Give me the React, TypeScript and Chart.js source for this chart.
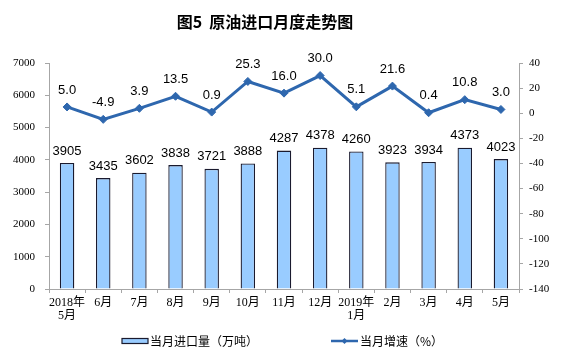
import React, { useEffect, useRef } from "react";
import { Chart, registerables } from "chart.js";

Chart.register(...registerables);

const titleText = "图5  原油进口月度走势图";
const categories: (string | string[])[] = [
  ["2018年", "5月"], "6月", "7月", "8月", "9月", "10月", "11月", "12月",
  ["2019年", "1月"], "2月", "3月", "4月", "5月",
];
const importVolume = [3905, 3435, 3602, 3838, 3721, 3888, 4287, 4378, 4260, 3923, 3934, 4373, 4023];
const growthRate = [5.0, -4.9, 3.9, 13.5, 0.9, 25.3, 16.0, 30.0, 5.1, 21.6, 0.4, 10.8, 3.0];
const volumeLabel = "当月进口量（万吨）";
const growthLabel = "当月增速（%）";
const leftAxis = { min: 0, max: 7000, step: 1000 };
const rightAxis = { min: -140, max: 40, step: 20 };

const BAR_FILL = "#99CCFF";
const BAR_BORDER = "#1a1a2e";
const LINE_COLOR = "#2E67AE";
const AXIS_COLOR = "#A6A6A6";
const TICK_FONT = "'Liberation Serif', 'Noto Sans CJK SC', serif";
const CJK_FONT = "'Noto Sans CJK SC', 'Liberation Sans', sans-serif";
const NUM_FONT = "'Liberation Sans', Arial, sans-serif";

const labelsPlugin = {
  id: "valueLabels",
  afterDatasetsDraw(chart: any) {
    const ctx = chart.ctx;
    ctx.save();
    ctx.fillStyle = "#000";
    ctx.textAlign = "center";
    ctx.textBaseline = "middle";
    ctx.font = `13px ${NUM_FONT}`;
    const barMeta = chart.getDatasetMeta(0);
    barMeta.data.forEach((el: any, i: number) => {
      ctx.fillText(String(importVolume[i]), el.x, el.y - 12);
    });
    const lineMeta = chart.getDatasetMeta(1);
    lineMeta.data.forEach((el: any, i: number) => {
      ctx.fillText(growthRate[i].toFixed(1), el.x, el.y - 17);
    });
    ctx.restore();
  },
};

const decorPlugin = {
  id: "decor",
  afterDraw(chart: any) {
    const ctx = chart.ctx;
    ctx.save();
    // title
    ctx.fillStyle = "#000";
    ctx.font = `bold 16px ${CJK_FONT}`;
    ctx.textAlign = "center";
    ctx.textBaseline = "middle";
    ctx.fillText(titleText, 265, 22);

    // legend: bar item
    const ly = 341;
    ctx.fillStyle = BAR_FILL;
    ctx.fillRect(122, ly - 2.5, 26, 5);
    ctx.strokeStyle = BAR_BORDER;
    ctx.lineWidth = 1.2;
    ctx.strokeRect(122, ly - 2.5, 26, 5);
    ctx.fillStyle = "#000";
    ctx.font = `12px ${CJK_FONT}`;
    ctx.textAlign = "left";
    ctx.fillText(volumeLabel, 150, ly + 0.5);

    // legend: line item
    ctx.strokeStyle = LINE_COLOR;
    ctx.lineWidth = 2.5;
    ctx.beginPath();
    ctx.moveTo(331, ly);
    ctx.lineTo(358, ly);
    ctx.stroke();
    ctx.fillStyle = LINE_COLOR;
    ctx.beginPath();
    ctx.moveTo(344.5, ly - 3);
    ctx.lineTo(347.5, ly);
    ctx.lineTo(344.5, ly + 3);
    ctx.lineTo(341.5, ly);
    ctx.closePath();
    ctx.fill();
    ctx.fillStyle = "#000";
    ctx.fillText(growthLabel, 360, ly + 0.5);
    ctx.restore();
  },
};

export default function App() {
  const canvasRef = useRef<HTMLCanvasElement | null>(null);

  useEffect(() => {
    if (!canvasRef.current) return;
    const chart = new Chart(canvasRef.current, {
      type: "bar",
      data: {
        labels: categories as any,
        datasets: [
          {
            type: "bar",
            label: volumeLabel,
            data: importVolume,
            backgroundColor: BAR_FILL,
            borderColor: BAR_BORDER,
            borderWidth: 1.3,
            barPercentage: 0.4,
            categoryPercentage: 1,
            yAxisID: "y",
            order: 2,
          } as any,
          {
            type: "line",
            label: growthLabel,
            data: growthRate,
            borderColor: LINE_COLOR,
            backgroundColor: LINE_COLOR,
            borderWidth: 3,
            pointStyle: "rectRot",
            pointRadius: 4,
            pointBackgroundColor: LINE_COLOR,
            pointBorderColor: LINE_COLOR,
            pointBorderWidth: 1,
            tension: 0,
            yAxisID: "y1",
            order: 1,
          } as any,
        ],
      },
      options: {
        responsive: false,
        animation: false,
        devicePixelRatio: 1,
        layout: { padding: { top: 63, bottom: 0, left: 0, right: 0 } },
        plugins: {
          legend: { display: false },
          title: { display: false },
          tooltip: { enabled: false },
        },
        scales: {
          x: {
            offset: true,
            grid: {
              display: true,
              offset: true,
              drawOnChartArea: false,
              drawTicks: true,
              tickLength: 4,
              color: AXIS_COLOR,
            },
            border: { display: true, color: AXIS_COLOR, width: 1 },
            ticks: {
              color: "#000",
              font: { family: TICK_FONT, size: 12, lineHeight: 1.1 },
              padding: 3,
              maxRotation: 0,
              autoSkip: false,
            },
            afterFit(scale: any) {
              scale.height = 68;
            },
          },
          y: {
            position: "left",
            min: leftAxis.min,
            max: leftAxis.max,
            grid: {
              display: true,
              drawOnChartArea: false,
              drawTicks: true,
              tickLength: 4,
              color: AXIS_COLOR,
            },
            border: { display: true, color: AXIS_COLOR, width: 1 },
            ticks: {
              stepSize: leftAxis.step,
              color: "#000",
              font: { family: TICK_FONT, size: 11 },
              padding: 10,
              callback: (v: any) => String(v),
            },
            afterFit(scale: any) {
              scale.width = 49;
            },
          },
          y1: {
            position: "right",
            min: rightAxis.min,
            max: rightAxis.max,
            grid: {
              display: true,
              drawOnChartArea: false,
              drawTicks: true,
              tickLength: 4,
              color: AXIS_COLOR,
            },
            border: { display: true, color: AXIS_COLOR, width: 1 },
            ticks: {
              stepSize: rightAxis.step,
              color: "#000",
              font: { family: TICK_FONT, size: 11 },
              padding: 6,
              callback: (v: any) => String(v),
            },
            afterFit(scale: any) {
              scale.width = 42;
            },
          },
        },
      } as any,
      plugins: [labelsPlugin, decorPlugin],
    });
    return () => chart.destroy();
  }, []);

  return (
    <div style={{ position: "fixed", left: 0, top: 0, width: 561, height: 357, background: "#fff" }}>
      <canvas ref={canvasRef} width={561} height={357} style={{ display: "block" }} />
    </div>
  );
}
